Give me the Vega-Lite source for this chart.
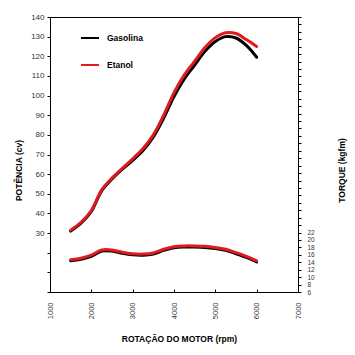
{
  "$schema": "https://vega.github.io/schema/vega-lite/v6.json",
  "width": 248,
  "height": 275,
  "autosize": {"type": "none"},
  "padding": {"left": 50, "top": 17, "right": 57, "bottom": 63},
  "background": "white",
  "config": {
    "font": "Liberation Sans",
    "view": {"stroke": "black", "strokeWidth": 1},
    "axis": {"grid": false, "domainColor": "black", "tickColor": "black", "labelColor": "#333333", "labelFont": "Liberation Sans", "titleFont": "Liberation Sans", "titleFontWeight": "bold", "titleFontSize": 8.5, "titleColor": "black"}
  },
  "data": {"values": [
    {"rpm": 1500, "fuel": "Gasolina", "power": 31, "torque": 14.4},
    {"rpm": 1750, "fuel": "Gasolina", "power": 35, "torque": 14.8},
    {"rpm": 2000, "fuel": "Gasolina", "power": 41, "torque": 15.6},
    {"rpm": 2250, "fuel": "Gasolina", "power": 51.5, "torque": 17.0},
    {"rpm": 2500, "fuel": "Gasolina", "power": 57.5, "torque": 17.0},
    {"rpm": 2750, "fuel": "Gasolina", "power": 62.5, "torque": 16.4},
    {"rpm": 3000, "fuel": "Gasolina", "power": 67, "torque": 16.0},
    {"rpm": 3250, "fuel": "Gasolina", "power": 72, "torque": 15.9},
    {"rpm": 3500, "fuel": "Gasolina", "power": 79, "torque": 16.2},
    {"rpm": 3750, "fuel": "Gasolina", "power": 88.5, "torque": 17.2},
    {"rpm": 4000, "fuel": "Gasolina", "power": 99.5, "torque": 17.9},
    {"rpm": 4250, "fuel": "Gasolina", "power": 108.5, "torque": 18.1},
    {"rpm": 4500, "fuel": "Gasolina", "power": 115.5, "torque": 18.1},
    {"rpm": 4750, "fuel": "Gasolina", "power": 122.5, "torque": 18.0},
    {"rpm": 5000, "fuel": "Gasolina", "power": 127.5, "torque": 17.7},
    {"rpm": 5250, "fuel": "Gasolina", "power": 130, "torque": 17.2},
    {"rpm": 5500, "fuel": "Gasolina", "power": 129.3, "torque": 16.3},
    {"rpm": 5750, "fuel": "Gasolina", "power": 125.5, "torque": 15.3},
    {"rpm": 6000, "fuel": "Gasolina", "power": 119.5, "torque": 14.1},
    {"rpm": 1500, "fuel": "Etanol", "power": 31.5, "torque": 14.7},
    {"rpm": 1750, "fuel": "Etanol", "power": 35.5, "torque": 15.1},
    {"rpm": 2000, "fuel": "Etanol", "power": 41.5, "torque": 15.9},
    {"rpm": 2250, "fuel": "Etanol", "power": 52, "torque": 17.3},
    {"rpm": 2500, "fuel": "Etanol", "power": 58, "torque": 17.3},
    {"rpm": 2750, "fuel": "Etanol", "power": 63, "torque": 16.7},
    {"rpm": 3000, "fuel": "Etanol", "power": 67.8, "torque": 16.3},
    {"rpm": 3250, "fuel": "Etanol", "power": 73, "torque": 16.2},
    {"rpm": 3500, "fuel": "Etanol", "power": 80, "torque": 16.5},
    {"rpm": 3750, "fuel": "Etanol", "power": 90, "torque": 17.5},
    {"rpm": 4000, "fuel": "Etanol", "power": 101.5, "torque": 18.2},
    {"rpm": 4250, "fuel": "Etanol", "power": 110.5, "torque": 18.4},
    {"rpm": 4500, "fuel": "Etanol", "power": 117.5, "torque": 18.4},
    {"rpm": 4750, "fuel": "Etanol", "power": 124.5, "torque": 18.3},
    {"rpm": 5000, "fuel": "Etanol", "power": 129.5, "torque": 18.0},
    {"rpm": 5250, "fuel": "Etanol", "power": 132, "torque": 17.5},
    {"rpm": 5500, "fuel": "Etanol", "power": 131.6, "torque": 16.6},
    {"rpm": 5750, "fuel": "Etanol", "power": 128.5, "torque": 15.6},
    {"rpm": 6000, "fuel": "Etanol", "power": 125, "torque": 14.4}
  ]},
  "encoding": {
    "x": {"field": "rpm", "type": "quantitative",
      "scale": {"domain": [1000, 7000], "nice": false, "zero": false},
      "axis": {"title": "ROTAÇÃO DO MOTOR (rpm)", "values": [1000, 2000, 3000, 4000, 5000, 6000, 7000], "format": "d",
        "labelAngle": -90, "labelAlign": "right", "labelBaseline": "middle", "labelFontSize": 7.5,
        "tickSize": -3, "labelPadding": 13, "titleX": 129, "titleY": 46, "titleBaseline": "middle", "titleAlign": "center"}},
    "color": {"field": "fuel", "type": "nominal",
      "scale": {"domain": ["Gasolina", "Etanol"], "range": ["#000000", "#e01b20"]},
      "legend": {"title": null, "orient": "none", "legendX": 30, "legendY": 11, "symbolType": "stroke",
        "symbolSize": 324, "symbolStrokeWidth": 2, "rowPadding": 12, "labelFontSize": 8.5, "labelFontWeight": "bold",
        "labelColor": "black", "labelOffset": 7, "labelFont": "Liberation Sans"}}
  },
  "layer": [
    {
      "mark": {"type": "line", "interpolate": "catmull-rom", "strokeWidth": 3, "strokeCap": "round"},
      "encoding": {
        "y": {"field": "power", "type": "quantitative",
          "scale": {"domain": [0, 140], "nice": false},
          "axis": {"title": "POTÊNCIA (cv)", "orient": "left", "values": [0, 10, 20, 30, 40, 50, 60, 70, 80, 90, 100, 110, 120, 130, 140],
            "labelExpr": "datum.value >= 30 ? datum.label : ''", "labelFontSize": 8, "tickSize": 3, "labelPadding": 3,
            "titleX": -32, "titleY": 153, "titleBaseline": "middle", "titleAlign": "center", "titleAngle": -90}}
      }
    },
    {
      "mark": {"type": "line", "interpolate": "catmull-rom", "strokeWidth": 3, "strokeCap": "round"},
      "encoding": {
        "y": {"field": "torque", "type": "quantitative",
          "scale": {"domain": [6, 80], "nice": false, "zero": false},
          "axis": {"title": "TORQUE (kgfm)", "orient": "right", "values": [6, 8, 10, 12, 14, 16, 18, 20, 22, 24, 26, 28, 30, 32, 34, 36, 38, 40, 42, 44, 46, 48, 50, 52, 54, 56, 58, 60, 62, 64, 66, 68, 70, 72, 74, 76, 78, 80],
            "labelExpr": "datum.value <= 22 ? datum.label : ''", "labelFontSize": 6.5, "labelOverlap": false, "labelFlush": false,
            "tickSize": 3, "labelPadding": 6,
            "titleX": 43, "titleY": 153, "titleBaseline": "middle", "titleAlign": "center", "titleAngle": -90}}
      }
    }
  ],
  "resolve": {"scale": {"y": "independent"}}
}
